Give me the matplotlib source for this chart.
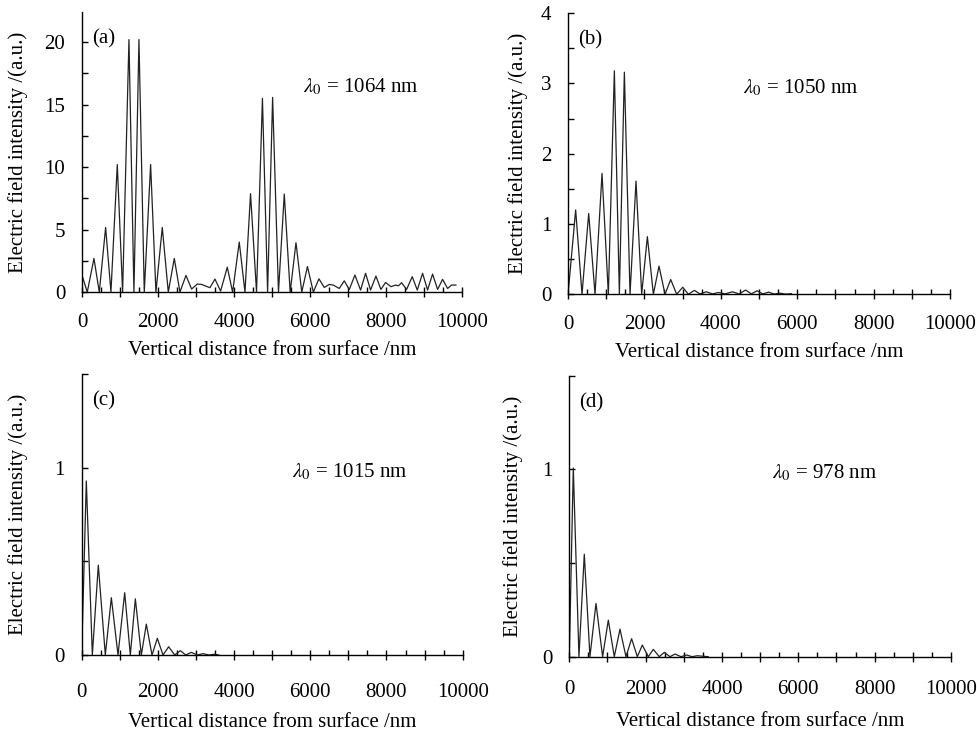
import numpy as np
import matplotlib
matplotlib.use('Agg')
import matplotlib.pyplot as plt
from matplotlib.ticker import MultipleLocator

# (a) lambda0 = 1064 nm : peak / trough points
a_x = [0, 140, 316, 456, 623, 763, 930, 1070, 1237, 1368, 1500, 1640, 1807, 1947,
       2114, 2272, 2430, 2579, 2737, 2886, 3035, 3149, 3368, 3500, 3649, 3825, 3965,
       4140, 4290, 4437, 4595, 4750, 4886, 5018, 5172, 5325, 5480, 5633, 5785, 5935,
       6090, 6237, 6377, 6509, 6614, 6772, 6904, 7035, 7184, 7333, 7465, 7596, 7737,
       7868, 7991, 8132, 8254, 8330, 8412, 8544, 8693, 8825, 8965, 9096, 9228, 9360,
       9492, 9623, 9728, 9842]
a_y = [1.36, 0.0, 2.69, 0.0, 5.17, 0.0, 10.2, 0.0, 20.2, 0.0, 20.2, 0.0, 10.2, 0.0,
       5.17, 0.0, 2.69, 0.0, 1.33, 0.24, 0.64, 0.61, 0.35, 1.04, 0.08, 1.99, 0.0,
       4.0, 0.0, 7.87, 0.0, 15.5, 0.0, 15.57, 0.0, 7.84, 0.0, 3.95, 0.0, 2.04,
       0.0, 1.06, 0.37, 0.61, 0.56, 0.29, 0.9, 0.2, 1.36, 0.16, 1.5, 0.16, 1.28,
       0.21, 0.77, 0.43, 0.56, 0.5, 0.75, 0.21, 1.23, 0.16, 1.5, 0.16, 1.44, 0.21,
       1.02, 0.29, 0.56, 0.56]

# (b) lambda0 = 1050 nm
b_x = [0, 200, 366, 541, 707, 890, 1056, 1213, 1344, 1475, 1623, 1780, 1928, 2077,
       2234, 2382, 2539, 2688, 2845, 3002, 3150, 3307, 3455, 3620, 3780, 3940, 4110,
       4300, 4480, 4650, 4800, 4950, 5100, 5250, 5400, 5550, 5700, 5850]
b_y = [0.0, 1.2, 0.0, 1.15, 0.0, 1.72, 0.0, 3.18, 0.0, 3.16, 0.0, 1.61, 0.0, 0.82,
       0.0, 0.4, 0.0, 0.21, 0.0, 0.1, 0.0, 0.055, 0.005, 0.035, 0.005, 0.025, 0.005,
       0.035, 0.005, 0.06, 0.005, 0.05, 0.004, 0.03, 0.003, 0.015, 0.002, 0.008]

# (c) lambda0 = 1015 nm
c_x = [0, 122, 280, 437, 621, 779, 954, 1129, 1277, 1409, 1566, 1697, 1846, 1986,
       2135, 2283, 2441, 2590, 2730, 2878, 3036, 3185, 3340, 3490, 3600]
c_y = [0.0, 0.93, 0.0, 0.48, 0.0, 0.306, 0.0, 0.333, 0.0, 0.3, 0.0, 0.165, 0.0, 0.089,
       0.0, 0.044, 0.0, 0.023, 0.0, 0.014, 0.0, 0.007, 0.0, 0.004, 0.0]

# (d) lambda0 = 978 nm
d_x = [0, 105, 253, 393, 541, 699, 873, 1022, 1179, 1328, 1485, 1633, 1782, 1913,
       2070, 2201, 2358, 2489, 2638, 2769, 2926, 3074, 3215, 3354, 3640]
d_y = [0.0, 1.007, 0.0, 0.547, 0.0, 0.284, 0.0, 0.195, 0.0, 0.147, 0.0, 0.096, 0.0,
       0.062, 0.0, 0.039, 0.0, 0.023, 0.0, 0.014, 0.0, 0.009, 0.0, 0.005, 0.0]

panels = ['(a)', '(b)', '(c)', '(d)']
wavelengths = ['1064', '1050', '1015', '978']

plt.rcParams['font.family'] = ['Liberation Serif', 'DejaVu Serif']
plt.rcParams['mathtext.fontset'] = 'stix'
plt.rcParams['font.size'] = 15

fig = plt.figure(figsize=(9.78, 7.32), dpi=100)

# axes rectangles in figure fraction: left, bottom, width, height
rects = [[0.0838, 0.601, 0.3885, 0.3825],
         [0.5808, 0.598, 0.3906, 0.384],
         [0.0835, 0.1052, 0.3896, 0.3835],
         [0.5821, 0.1029, 0.3903, 0.3839]]
ylims = [22.4, 4.0, 1.5, 1.5]
ymajor = [5, 1, 1, 1]
yminor = [2.5, 0.5, 0.5, 0.5]
text_pos = [(5815, 16.4), (4580, 2.93), (5520, 0.98), (5300, 0.98)]
xpads = [11.5, 11.5, 16.5, 13]
xlabel_y = [-0.207, -0.206, -0.239, -0.231]
ylabel_x = [-0.168, -0.131, -0.167, -0.147]
data = [(a_x, a_y), (b_x, b_y), (c_x, c_y), (d_x, d_y)]

for i in range(4):
    ax = fig.add_axes(rects[i])
    xs, ys = data[i]
    ax.plot(xs, ys, color='#222222', linewidth=0.9)

    ax.set_xlim(0, 10000)
    ax.set_ylim(0, ylims[i])
    ax.spines['top'].set_visible(False)
    ax.spines['right'].set_visible(False)
    for s in ['left', 'bottom']:
        ax.spines[s].set_linewidth(1.0)

    xt = np.arange(0, 10001, 1000)
    ax.set_xticks(xt)
    ax.set_xticklabels([str(v) if v % 2000 == 0 else '' for v in xt])
    ax.xaxis.set_minor_locator(MultipleLocator(500))
    ax.yaxis.set_major_locator(MultipleLocator(ymajor[i]))
    ax.yaxis.set_minor_locator(MultipleLocator(yminor[i]))

    ax.tick_params(axis='x', which='major', direction='inout', length=7, width=1, pad=xpads[i])
    ax.tick_params(axis='x', which='minor', direction='in', length=3.5, width=1)
    ax.tick_params(axis='y', which='both', direction='in', length=4, width=1, pad=12)

    ax.set_xlabel('Vertical distance from surface /nm')
    ax.set_ylabel('Electric field intensity /(a.u.)')
    ax.xaxis.set_label_coords(0.5, xlabel_y[i])
    ax.xaxis.label.set_va('center')
    ax.yaxis.set_label_coords(ylabel_x[i], 0.5)
    ax.yaxis.label.set_va('center')

    ax.text(0.027, 0.904, panels[i], transform=ax.transAxes, ha='left', va='center')
    ax.text(text_pos[i][0], text_pos[i][1], r'$\lambda_0$' + ' = ' + wavelengths[i] + ' nm',
            ha='left', va='center')

fig.savefig('out.png', dpi=100, facecolor='white')
